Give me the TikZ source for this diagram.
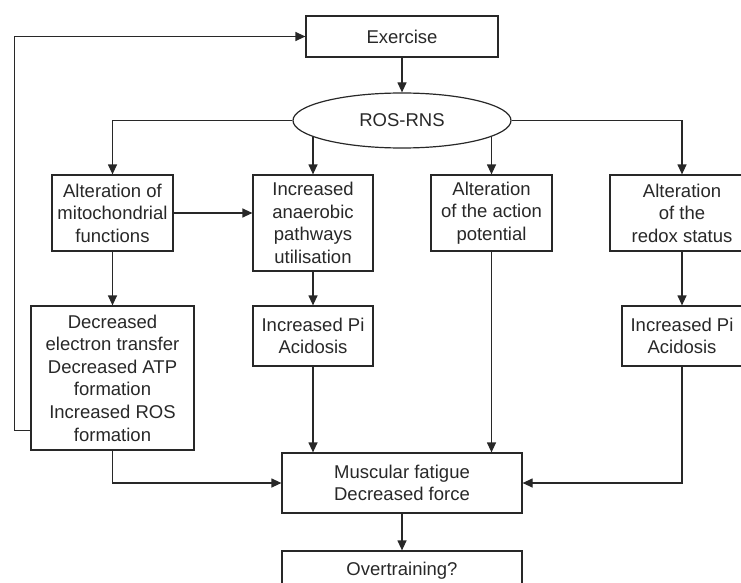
\documentclass[tikz,border=0pt]{standalone}
\usepackage{fontspec}
\setmainfont{Liberation Sans}
\usetikzlibrary{arrows.meta,shapes.geometric,backgrounds}
\definecolor{ink}{RGB}{40,40,40}
\begin{document}
\begin{tikzpicture}[x=1pt,y=-1pt,
  box/.style={draw=ink, line width=1.2pt, fill=white, align=center, inner sep=0pt, text=ink, font=\fontsize{18.5}{22.6}\selectfont},
  arr/.style={draw=ink, line width=1.2pt, -{Triangle[length=10pt,width=9pt]}},
  ln/.style={draw=ink, line width=1.2pt}]
\useasboundingbox (0,0) rectangle (741,583);
\clip (0,0) rectangle (741,583);
\node[box, minimum width=192pt, minimum height=41pt] (ex) at (402,36.5) {Exercise};
\node[box, ellipse, minimum width=218pt, minimum height=55pt] (ros) at (402,120.5) {ROS-RNS};
\node[box, minimum width=121pt, minimum height=76pt] (b1) at (112.5,213) {Alteration of\\mitochondrial\\functions};
\node[box, minimum width=120pt, minimum height=96pt] (b2) at (313,223) {Increased\\anaerobic\\pathways\\utilisation};
\node[box, minimum width=121pt, minimum height=76pt] (b3) at (491.5,213) {Alteration\\of the action\\potential};
\node[box, minimum width=144pt, minimum height=76pt] (b4) at (682,213) {Alteration\\of the\\redox status};
\node[box, minimum width=163pt, minimum height=144pt] (b5) at (112.5,378) {Decreased\\electron transfer\\Decreased ATP\\formation\\Increased ROS\\formation};
\node[box, minimum width=120pt, minimum height=60pt] (b6) at (313,336) {Increased Pi\\Acidosis};
\node[box, minimum width=120pt, minimum height=60pt] (b7) at (682,336) {Increased Pi\\Acidosis};
\node[box, minimum width=240pt, minimum height=60pt] (mf) at (402,483) {Muscular fatigue\\Decreased force};
\node[box, minimum width=240pt, minimum height=40pt] (ov) at (402,571) {Overtraining?};
\begin{scope}[on background layer]
\draw[arr] (ex.south) -- (ros.north);
\draw[arr] (ros.west) -| (b1.north);
\draw[arr] (ros.east) -| (b4.north);
\draw[arr] (b2.north |- ros.center) -- (b2.north);
\draw[arr] (b3.north |- ros.center) -- (b3.north);
\draw[arr] (b1.east) -- (b1.east -| b2.west);
\draw[arr] (b1.south) -- (b5.north);
\draw[arr] (b2.south) -- (b6.north);
\draw[arr] (b4.south) -- (b7.north);
\draw[arr] (b6.south) -- (b6.south |- mf.north);
\draw[arr] (b3.south) -- (b3.south |- mf.north);
\draw[arr] (b5.south) |- (mf.west);
\draw[arr] (b7.south) |- (mf.east);
\draw[arr] (mf.south) -- (ov.north);
\draw[arr] ([yshift=20pt]b5.south west) -- ++(-16,0) |- (ex.west);
\end{scope}
\end{tikzpicture}
\end{document}
